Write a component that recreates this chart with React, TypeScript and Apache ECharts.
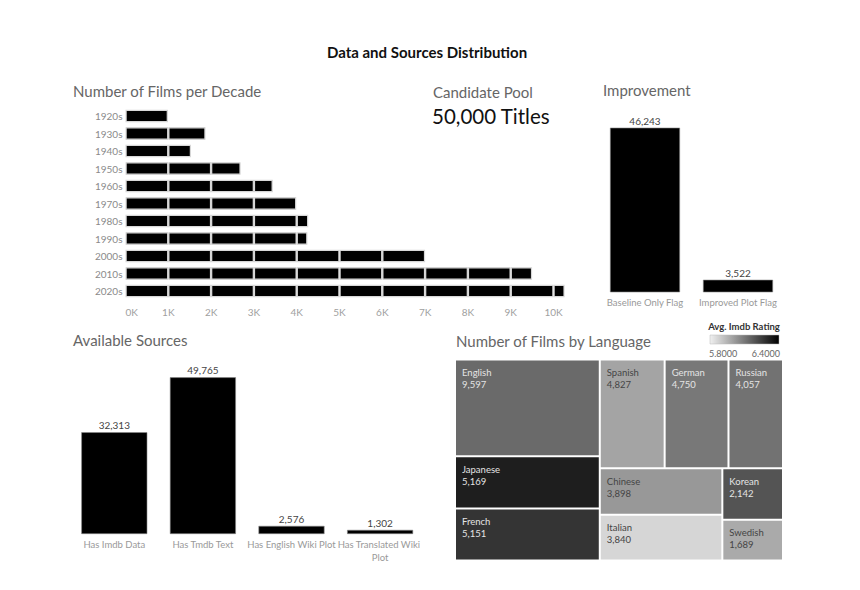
import React, { useEffect, useRef } from 'react';
import * as echarts from 'echarts';

// ---------- data ----------
const decades = ['1920s', '1930s', '1940s', '1950s', '1960s', '1970s', '1980s', '1990s', '2000s', '2010s', '2020s'];
const decadeFilms = [990, 1870, 1530, 2690, 3440, 3990, 4270, 4250, 7000, 9500, 10260];
const decadeTicks = ['0K', '1K', '2K', '3K', '4K', '5K', '6K', '7K', '8K', '9K', '10K'];
const SEGMENT = 1000;

const totalTitles = 50000;

const improvementCats = ['Baseline Only Flag', 'Improved Plot Flag'];
const improvementValues = [46243, 3522];

const sourceCats = ['Has Imdb Data', 'Has Tmdb Text', 'Has English Wiki Plot', 'Has Translated Wiki Plot'];
const sourceValues = [32313, 49765, 2576, 1302];

const languages = ['English', 'Japanese', 'French', 'Spanish', 'German', 'Russian', 'Chinese', 'Italian', 'Korean', 'Swedish'];
const languageFilms = [9597, 5169, 5151, 4827, 4750, 4057, 3898, 3840, 2142, 1689];
const languageRatings = [6.135, 6.325, 6.27, 5.99, 6.1, 6.115, 6.02, 5.865, 6.19, 5.975];
const ratingRange = [5.8, 6.4];
const ratingLegendLabels = ['5.8000', '6.4000'];

// ---------- styles ----------
const FONT = 'Lato, "Open Sans", sans-serif';
const fmt = (v: number) => v.toLocaleString('en-US');

function buildOption(): any {
  const maxSegs = Math.ceil(Math.max(...decadeFilms) / SEGMENT);
  const segSeries = [] as any[];
  for (let k = 0; k < maxSegs; k++) {
    segSeries.push({
      type: 'bar',
      xAxisIndex: 0,
      yAxisIndex: 0,
      stack: 'decade',
      barWidth: 12.5,
      data: decadeFilms.map((v) => {
        const s = Math.min(SEGMENT, v - k * SEGMENT);
        return s > 0 ? s : null;
      }),
      itemStyle: { color: '#000', borderColor: '#d8d8d8', borderWidth: 1.2 },
      silent: true,
    });
  }

  const axisOff = { axisLine: { show: false }, axisTick: { show: false }, splitLine: { show: false } };

  const treeData = languages.map((name, i) => ({
    name,
    value: [languageFilms[i], languageRatings[i]],
    label: { color: languageRatings[i] >= 6.05 ? '#e4e4e4' : '#444' },
  }));

  const text = (x: number, y: number, t: string, size: number, color: string, opts: any = {}) => ({
    type: 'text',
    x,
    y,
    silent: true,
    style: {
      text: t,
      fill: color,
      fontSize: size,
      fontFamily: FONT,
      fontWeight: opts.weight || 'normal',
      textAlign: opts.align || 'left',
      textVerticalAlign: 'middle',
    },
  });

  return {
    animation: false,
    backgroundColor: '#fff',
    textStyle: { fontFamily: FONT },
    grid: [
      { left: 125.5, top: 107.25, width: 449.4, height: 192.5 },
      { left: 598.5, top: 114.3, width: 186, height: 178 },
      { left: 70, top: 360.8, width: 354.4, height: 173.2 },
    ],
    xAxis: [
      {
        type: 'value',
        gridIndex: 0,
        min: 0,
        max: 10500,
        interval: SEGMENT,
        ...axisOff,
        axisLabel: {
          color: '#a0a0a0',
          fontSize: 10,
          margin: 7,
          alignMinLabel: 'left',
          formatter: (v: number) => (v % SEGMENT === 0 ? decadeTicks[v / SEGMENT] || '' : ''),
        },
      },
      {
        type: 'category',
        gridIndex: 1,
        data: improvementCats,
        ...axisOff,
        axisLabel: { color: '#999', fontSize: 9.5, margin: 5, interval: 0 },
      },
      {
        type: 'category',
        gridIndex: 2,
        data: sourceCats,
        ...axisOff,
        axisLabel: {
          color: '#999',
          fontSize: 9.5,
          margin: 4,
          interval: 0,
          width: 96,
          overflow: 'break',
          lineHeight: 13,
        },
      },
    ],
    yAxis: [
      {
        type: 'category',
        gridIndex: 0,
        data: decades,
        inverse: true,
        ...axisOff,
        axisLabel: { color: '#8a8a8a', fontSize: 10, margin: 3 },
      },
      { type: 'value', gridIndex: 1, min: 0, max: 50000, show: false },
      { type: 'value', gridIndex: 2, min: 0, max: 55000, show: false },
    ],
    series: [
      ...segSeries,
      {
        type: 'bar',
        xAxisIndex: 1,
        yAxisIndex: 1,
        barWidth: 70,
        data: improvementValues,
        itemStyle: { color: '#000', borderColor: '#888', borderWidth: 0.6 },
        label: { show: true, position: 'top', distance: 2, color: '#444', fontSize: 10, formatter: (p: any) => fmt(p.value) },
        silent: true,
      },
      {
        type: 'bar',
        xAxisIndex: 2,
        yAxisIndex: 2,
        barWidth: 66,
        data: sourceValues,
        itemStyle: { color: '#000', borderColor: '#888', borderWidth: 0.6 },
        label: { show: true, position: 'top', distance: 2, color: '#444', fontSize: 10, formatter: (p: any) => fmt(p.value) },
        silent: true,
      },
      {
        type: 'treemap',
        left: 456,
        top: 360.5,
        width: 326,
        height: 199,
        roam: false,
        nodeClick: false,
        breadcrumb: { show: false },
        visualDimension: 1,
        visualMin: ratingRange[0],
        visualMax: ratingRange[1],
        colorMappingBy: 'value',
        label: {
          show: true,
          position: [6, 6],
          padding: 0,
          fontSize: 9.5,
          lineHeight: 12,
          fontFamily: FONT,
          formatter: (p: any) => p.name + '\n' + fmt(p.value[0]),
        },
        upperLabel: { show: false },
        levels: [
          {
            color: ['#f0f0f0', '#000000'],
            colorMappingBy: 'value',
            visualDimension: 1,
            visualMin: ratingRange[0],
            visualMax: ratingRange[1],
            itemStyle: { gapWidth: 2, borderWidth: 0, borderColor: '#fff' },
          },
          { itemStyle: { borderWidth: 0, gapWidth: 0 } },
        ],
        data: treeData,
        silent: true,
      },
    ],
    graphic: [
      text(427, 52, 'Data and Sources Distribution', 15, '#111', { weight: 'bold', align: 'center' }),
      text(73, 91, 'Number of Films per Decade', 15, '#666'),
      text(433, 92, 'Candidate Pool', 15, '#666'),
      text(432, 116, fmt(totalTitles) + ' Titles', 20.5, '#111'),
      text(603, 90, 'Improvement', 15, '#666'),
      text(73, 340, 'Available Sources', 15, '#666'),
      text(456, 341, 'Number of Films by Language', 15, '#666'),
      text(744, 326, 'Avg. Imdb Rating', 9.5, '#333', { weight: 'bold', align: 'center' }),
      {
        type: 'rect',
        silent: true,
        shape: { x: 710, y: 335, width: 69, height: 9 },
        style: {
          fill: new echarts.graphic.LinearGradient(0, 0, 1, 0, [
            { offset: 0, color: '#f0f0f0' },
            { offset: 1, color: '#000000' },
          ]),
          stroke: '#bbb',
          lineWidth: 0.5,
        },
      },
      text(709, 353, ratingLegendLabels[0], 9, '#666', { align: 'left' }),
      text(780, 353, ratingLegendLabels[1], 9, '#666', { align: 'right' }),
    ],
  };
}

export default function App() {
  const ref = useRef<HTMLDivElement>(null);
  useEffect(() => {
    if (!ref.current) return;
    const chart = echarts.init(ref.current, null, { renderer: 'svg' });
    chart.setOption(buildOption());
    return () => chart.dispose();
  }, []);
  return (
    <div
      ref={ref}
      style={{ position: 'fixed', left: 0, top: 0, width: 860, height: 590, background: '#fff' }}
    />
  );
}
